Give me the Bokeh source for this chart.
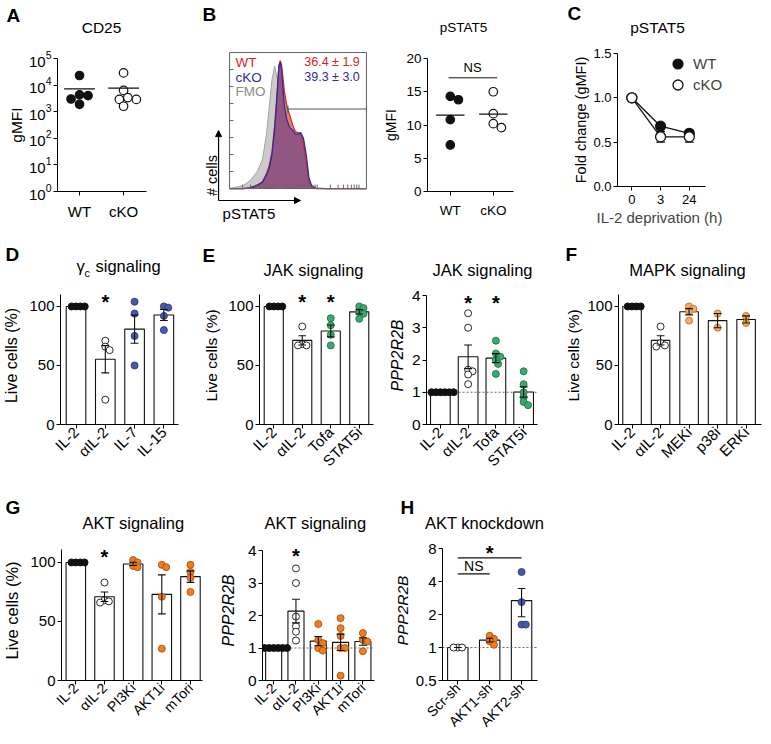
import math
import numpy as np
from bokeh.plotting import figure
from bokeh.layouts import row, column
from bokeh.models import (Label, Arrow, NormalHead, FixedTicker, Range1d, Legend, Title,
                          LegendItem, PrintfTickFormatter, Spacer)
from bokeh.embed import file_html
from bokeh.resources import INLINE

FONT = "Liberation Sans"

# ---------------- data ----------------
# A: CD25 gMFI
a_groups = ["WT", "cKO"]
a_wt = [23000, 4300, 4000, 3000, 1900]
a_cko = [28800, 6300, 3400, 2900, 2900, 1600]

# B: pSTAT5 flow histogram (% of max) and gMFI
hist_x = [0, 10, 15, 20, 24, 27, 29, 31, 33, 35, 36, 37, 38, 39, 40, 42, 44, 46, 48, 50,
          52, 54, 56, 58, 60, 63, 70, 100]
hist_fmo = [0, 2.2, 5.8, 12, 21, 40, 60, 80, 90, 80, 69, 55, 42, 30, 21, 9, 5, 2.2, 1, 0.6,
            0, 0, 0, 0, 0, 0, 0, 0]
hist_wt = [0, 0, 0.5, 2.5, 5, 11, 17, 27, 47, 75, 90, 94, 91, 82, 72, 60, 54, 47, 42, 41,
           41, 33, 20, 6, 1.5, 0, 0, 0]
hist_cko = [0, 0, 0.5, 2.2, 4.5, 10, 15, 25, 44, 72, 90, 93, 88, 74, 61, 50, 45, 43, 40, 40,
            41, 37, 25, 8, 2, 0.3, 0, 0]
hist_gate = [42.6, 100]
hist_gate_level = 58.5
hist_names = ["WT", "cKO", "FMO"]
hist_pct = ["36.4 ± 1.9", "39.3 ± 3.0"]

b_groups = ["WT", "cKO"]
b_wt = [14.3, 13.8, 10.8, 7.0]
b_cko = [15.0, 11.7, 10.2, 9.6]

# C: pSTAT5 fold change after IL-2 deprivation
c_hours = ["0", "3", "24"]
c_wt = [1.0, 0.68, 0.60]
c_wt_sem = [0.0, 0.03, 0.03]
c_cko = [1.0, 0.56, 0.56]
c_cko_sem = [0.0, 0.06, 0.06]

# D: gamma-c signaling, live cells (%)
d_cats = ["IL-2", "αIL-2", "IL-7", "IL-15"]
d_vals = [[100, 100, 100, 100], [71, 66, 63, 21], [104, 94, 75, 50], [100, 99, 92, 80]]
d_sig = [False, True, False, False]

# E: JAK signaling
e_cats = ["IL-2", "αIL-2", "Tofa", "STAT5i"]
e_live = [[100, 100, 100, 100], [83, 68, 67, 67], [90, 84, 76, 67], [100, 98.6, 95.2, 93.8, 89.5]]
e_live_sig = [False, True, True, False]
e_ppp = [[1, 1, 1, 1, 1, 1], [3.45, 3.0, 1.7, 1.65, 1.55, 1.25],
         [2.6, 2.2, 2.1, 2.0, 1.88, 1.57], [1.65, 1.25, 1.0, 0.85, 0.7, 0.6]]
e_ppp_sig = [False, True, True, False]

# F: MAPK signaling
f_cats = ["IL-2", "αIL-2", "MEKi", "p38i", "ERKi"]
f_live = [[100, 100, 100, 100], [83, 69, 67, 66], [100, 98, 96, 88], [94, 82], [92, 86]]

# G: AKT signaling
g_cats = ["IL-2", "αIL-2", "PI3Ki", "AKT1i", "mTori"]
g_live = [[100, 100, 100, 100], [83, 68, 67, 66], [102, 100, 97, 96], [98, 96, 71, 27],
          [98, 92, 87, 75]]
g_live_sig = [False, True, False, False, False]
g_ppp = [[1, 1, 1, 1, 1, 1], [3.45, 3.0, 1.97, 1.67, 1.5, 1.23], [1.74, 1.25, 1.15, 1.0, 0.92],
         [1.92, 1.61, 1.37, 1.0, 1.0, 0.15], [1.46, 1.25, 1.2, 0.9]]
g_ppp_sig = [False, True, False, False, False]

# H: AKT knockdown
h_cats = ["Scr-sh", "AKT1-sh", "AKT2-sh"]
h_ppp = [[1, 1, 1], [1.28, 1.2, 1.14, 1.06], [4.9, 2.6, 1.62, 1.62]]

# ---------------- styles ----------------
BLACK = "#111111"
STYLE = {
    "k": (BLACK, BLACK),
    "o": ("white", BLACK),
    "b": ("#4a58a8", "#2c3878"),
    "g": ("#3caa70", "#1f7447"),
    "lo": ("#f3ae63", "#b87428"),
    "do": ("#ef7e22", "#a8520e"),
}
TOTAL_W = 769


def no_align(p):
    try:
        p.frame_align = False
    except Exception:
        pass


def base_fig(geo, xr, yr, ytype="linear", tick_fs="15px", label_fs="15px"):
    x0, w, fl, fw, top, h, ft, fb = geo
    l = fl - x0
    t = ft - top
    fh = fb - ft
    p = figure(width=w, height=h, x_range=Range1d(*xr), y_range=Range1d(*yr),
               y_axis_type=ytype, min_border_left=l, min_border_top=t,
               min_border_right=w - l - fw, min_border_bottom=h - t - fh,
               output_backend="svg", toolbar_location=None, title=None)
    no_align(p)
    p.outline_line_color = None
    p.grid.grid_line_color = None
    for ax in p.axis:
        ax.axis_line_color = "black"
        ax.axis_line_width = 1
        ax.major_tick_line_color = "black"
        ax.major_tick_in = 0
        ax.major_tick_out = 4
        ax.minor_tick_line_color = None
        ax.major_label_text_font = FONT
        ax.major_label_text_font_size = tick_fs
        ax.major_label_text_color = "black"
        ax.axis_label_text_font = FONT
        ax.axis_label_text_font_size = label_fs
        ax.axis_label_text_font_style = "normal"
        ax.axis_label_text_color = "black"
    p.yaxis.major_label_standoff = 2
    p.xaxis.major_label_standoff = 7
    p.yaxis.axis_label_standoff = 5
    return p


def lab(p, x, y, text, size="16px", align="center", baseline="middle", color="black",
        style="normal", angle=0.0, units="data"):
    p.add_layout(Label(x=x, y=y, x_units=units, y_units=units, text=text, text_font=FONT,
                       text_font_size=size, text_align=align, text_baseline=baseline,
                       text_color=color, text_font_style=style, angle=angle))


def header(y0, h, items):
    p = figure(width=TOTAL_W, height=h, x_range=Range1d(0, TOTAL_W),
               y_range=Range1d(y0 + h, y0), x_axis_location=None, y_axis_location=None,
               min_border=0, output_backend="svg", toolbar_location=None, title=None)
    no_align(p)
    p.outline_line_color = None
    p.grid.grid_line_color = None
    p.xgrid.visible = False
    p.ygrid.visible = False
    for x, y, text, size, align, bold in items:
        lab(p, x, y, text, size=size, align=align, style="bold" if bold else "normal")
    return p


def swarm(vals, is_log, ppx, ppy, size, sep=0.62, step=0.32):
    ys = [(math.log10(v) if is_log else v) * ppy for v in vals]
    order = sorted(range(len(vals)), key=lambda i: -vals[i])
    placed, offs = [], [0.0] * len(vals)
    mind = size * sep
    for i in order:
        k = 0
        while True:
            cand = 0.0 if k == 0 else ((k + 1) // 2) * size * step * (1 if k % 2 else -1)
            if all((cand - px) ** 2 + (ys[i] - py) ** 2 >= mind ** 2 for px, py in placed):
                break
            k += 1
        placed.append((cand, ys[i]))
        offs[i] = cand / ppx
    return offs


def scales(geo, xr, yr, is_log):
    fw = geo[3]
    fh = geo[7] - geo[6]
    ppx = fw / (xr[1] - xr[0])
    if is_log:
        ppy = fh / (math.log10(yr[1]) - math.log10(yr[0]))
    else:
        ppy = fh / (yr[1] - yr[0])
    return ppx, ppy


def bar_panel(geo, xr, yr, ybounds, cats, vals, kinds, ylabel, yticks, sig=None, star_y=None,
              ytype="linear", italic=False, bar_w=0.67, pt=7.0, dashed=None, tick_fs="15px",
              label_fs="16px", xlab_fs="15px", ylab_standoff=5):
    is_log = ytype == "log"
    p = base_fig(geo, xr, yr, ytype, tick_fs, label_fs)
    n = len(cats)
    xs = list(range(n))
    means = [float(np.mean(v)) for v in vals]
    sems = [float(np.std(v, ddof=1) / math.sqrt(len(v))) for v in vals]
    p.vbar(x=xs, top=means, bottom=ybounds[0], width=bar_w, fill_color="white",
           line_color=BLACK, line_width=1.1)
    if dashed is not None:
        p.segment(x0=[xr[0]], y0=[dashed], x1=[n - 0.5], y1=[dashed], line_color="#555555",
                  line_dash="2 2", line_width=0.9)
    ppx, ppy = scales(geo, xr, yr, is_log)
    for i, (v, k) in enumerate(zip(vals, kinds)):
        offs = swarm(v, is_log, ppx, ppy, pt)
        fill, line = STYLE[k]
        p.scatter(x=[i + o for o in offs], y=v, size=pt, fill_color=fill,
                  line_color=line, line_width=0.9)
    cap = 4.0 / ppx
    lo = [m - s for m, s in zip(means, sems)]
    hi = [m + s for m, s in zip(means, sems)]
    p.segment(x0=xs, y0=lo, x1=xs, y1=hi, line_color=BLACK, line_width=1.1)
    p.segment(x0=[x - cap for x in xs], y0=hi, x1=[x + cap for x in xs], y1=hi,
              line_color=BLACK, line_width=1.1)
    p.segment(x0=[x - cap for x in xs], y0=lo, x1=[x + cap for x in xs], y1=lo,
              line_color=BLACK, line_width=1.1)
    p.xaxis.ticker = FixedTicker(ticks=xs)
    p.xaxis.major_label_overrides = {i: c for i, c in enumerate(cats)}
    p.xaxis.major_label_orientation = math.pi / 4
    p.xaxis.major_label_text_font_size = xlab_fs
    p.xaxis.major_label_standoff = 1
    p.yaxis.ticker = FixedTicker(ticks=yticks)
    p.yaxis.bounds = ybounds
    p.yaxis.axis_label = ylabel
    p.yaxis.axis_label_standoff = ylab_standoff
    if italic:
        p.yaxis.axis_label_text_font_style = "italic"
    if sig is not None:
        for i, s in enumerate(sig):
            if s:
                lab(p, i, star_y, "*", size="20px", style="bold")
    return p


# ================= Header row 1 (page y 0..44) =================
hdr1 = header(0, 44, [
    (6, 15, "A", "19px", "left", True),
    (101, 27, "CD25", "15.5px", "center", False),
    (202, 14, "B", "19px", "left", True),
    (463, 27, "pSTAT5", "13.5px", "center", False),
    (567, 13, "C", "19px", "left", True),
    (657, 27, "pSTAT5", "15.5px", "center", False),
])

# ================= Row 1 (page y 44..228) =================
TOP1, H1 = 44, 184
# ---- A ----
geoA = (0, 200, 57, 89, TOP1, H1, 58, 191)
xrA, yrA = (0.5, 2.52), (1, 1e5)
pA = base_fig(geoA, xrA, yrA, "log", "15px", "15.5px")
ppx, ppy = scales(geoA, xrA, yrA, True)
for i, (vals, kind) in enumerate([(a_wt, "k"), (a_cko, "o")]):
    offs = swarm(vals, True, ppx, ppy, 8.5, sep=0.95, step=0.5)
    fill, line = STYLE[kind]
    pA.scatter(x=[i + 1 + o for o in offs], y=vals, size=8.5, fill_color=fill,
               line_color=line, line_width=1.2)
    m = float(np.mean(vals))
    pA.segment(x0=[i + 1 - 0.35], y0=[m], x1=[i + 1 + 0.35], y1=[m], line_color=BLACK,
               line_width=1.3)
pA.xaxis.ticker = FixedTicker(ticks=[1, 2])
pA.xaxis.major_label_overrides = {1: a_groups[0], 2: a_groups[1]}
pA.yaxis.ticker = FixedTicker(ticks=[1, 10, 100, 1000, 10000, 100000])
pA.yaxis.axis_label = "gMFI"
pA.yaxis.axis_label_standoff = 1

# ---- B histogram (frame enlarged so arrows and labels sit inside it) ----
hxr, hyr = (-19.0, 104.4), (-27.9, 105.9)
pB = figure(width=180, height=H1, x_range=Range1d(*hxr), y_range=Range1d(*hyr),
            x_axis_location=None, y_axis_location=None, min_border_left=3,
            min_border_right=8, min_border_top=0, min_border_bottom=2,
            output_backend="svg", toolbar_location=None, title=None)
no_align(pB)
pB.outline_line_color = None
pB.grid.grid_line_color = None
pB.varea(x=hist_x, y1=0, y2=hist_fmo, fill_color="#cbcbcb")
pB.line(hist_x, hist_fmo, line_color="#a3a3a3", line_width=1)
pB.varea(x=hist_x, y1=0, y2=hist_wt, fill_color="#e4825f")
pB.varea(x=hist_x, y1=0, y2=hist_cko, fill_color="#8a5485", fill_alpha=0.92)
pB.line(hist_x, hist_wt, line_color="#d42424", line_width=1.2)
pB.line(hist_x, hist_cko, line_color="#2b2ba3", line_width=1.2)
pB.segment(x0=[hist_gate[0]], y0=[hist_gate_level], x1=[hist_gate[1]], y1=[hist_gate_level],
           line_color="#555555", line_width=1.2)
pB.segment(x0=hist_gate, y0=[hist_gate_level - 2.5] * 2, x1=hist_gate,
           y1=[hist_gate_level + 2.5] * 2, line_color="#555555", line_width=1.2)
# box with inward ticks
pB.quad(left=[0], right=[100], bottom=[0], top=[100], fill_color=None,
        line_color="#666666", line_width=1)
ytk = [12.5 * k for k in range(1, 8)]
pB.segment(x0=[0] * len(ytk), y0=ytk, x1=[2.9] * len(ytk), y1=ytk, line_color="#666666")
xtk = [d + 32 * math.log10(k) for d in (0, 32, 64) for k in range(1, 10)
       if 0 < d + 32 * math.log10(k) < 100]
pB.segment(x0=xtk, y0=[0] * len(xtk), x1=xtk, y1=[2.9] * len(xtk), line_color="#666666")
hist_colors = ["#d42424", "#2b2ba3", "#8c8c8c"]
for k, (nm, col) in enumerate(zip(hist_names, hist_colors)):
    lab(pB, 4.4, 92.9 - 10.9 * k, nm, size="13.5px", align="left", color=col)
for k, pc in enumerate(hist_pct):
    lab(pB, 95.1, 92.9 - 10.9 * k, pc, size="12.5px", align="right", color=hist_colors[k])
lab(pB, -13.1, 9.6, "# cells", size="14.5px", angle=math.pi / 2)
lab(pB, -5.1, -18.4, "pSTAT5", size="15px", align="left")
pB.add_layout(Arrow(x_start=-8.0, y_start=-8.8, x_end=-8.0, y_end=42.6, line_width=1.2,
                    end=NormalHead(size=6, fill_color="black", line_color="black")))
pB.add_layout(Arrow(x_start=-8.0, y_start=-8.8, x_end=51.8, y_end=-8.8, line_width=1.2,
                    end=NormalHead(size=6, fill_color="black", line_color="black")))

# ---- B dot plot ----
geoBd = (380, 190, 423, 90, TOP1, H1, 58, 191)
xrBd, yrBd = (0.47, 2.47), (0, 20)
pBd = base_fig(geoBd, xrBd, yrBd, "linear", "13.5px", "14px")
ppx, ppy = scales(geoBd, xrBd, yrBd, False)
for i, (vals, kind) in enumerate([(b_wt, "k"), (b_cko, "o")]):
    offs = swarm(vals, False, ppx, ppy, 8.5, sep=0.95, step=0.5)
    fill, line = STYLE[kind]
    pBd.scatter(x=[i + 1 + o for o in offs], y=vals, size=8.5, fill_color=fill,
                line_color=line, line_width=1.2)
    m = float(np.mean(vals))
    pBd.segment(x0=[i + 1 - 0.33], y0=[m], x1=[i + 1 + 0.33], y1=[m], line_color=BLACK,
                line_width=1.3)
pBd.segment(x0=[0.96], y0=[17.1], x1=[2.09], y1=[17.1], line_color=BLACK, line_width=1)
lab(pBd, 1.52, 18.6, "NS", size="13px")
pBd.xaxis.ticker = FixedTicker(ticks=[1, 2])
pBd.xaxis.major_label_overrides = {1: b_groups[0], 2: b_groups[1]}
pBd.yaxis.ticker = FixedTicker(ticks=[0, 5, 10, 15, 20])
pBd.yaxis.axis_label = "gMFI"
pBd.yaxis.axis_label_standoff = 4

# ---- C ----
geoC = (570, 199, 613, 147, TOP1, H1, 53, 186)
xrC, yrC = (-0.5, 4.48), (0, 1.5)
pC = base_fig(geoC, xrC, yrC, "linear", "13px", "14.5px")
cx = list(range(len(c_hours)))
ppx, _ = scales(geoC, xrC, yrC, False)
capc = 4.5 / ppx
for mean, sem in [(c_wt, c_wt_sem), (c_cko, c_cko_sem)]:
    lo = [m - s for m, s in zip(mean, sem)]
    hi = [m + s for m, s in zip(mean, sem)]
    pC.line(cx, mean, line_color=BLACK, line_width=1.3)
    pC.segment(x0=cx, y0=lo, x1=cx, y1=hi, line_color=BLACK, line_width=1.2)
    pC.segment(x0=[x - capc for x in cx], y0=lo, x1=[x + capc for x in cx], y1=lo,
               line_color=BLACK, line_width=1.2)
    pC.segment(x0=[x - capc for x in cx], y0=hi, x1=[x + capc for x in cx], y1=hi,
               line_color=BLACK, line_width=1.2)
r_wt = pC.scatter(x=cx, y=c_wt, size=10, fill_color=BLACK, line_color=BLACK, line_width=1.2)
r_cko = pC.scatter(x=cx, y=c_cko, size=10, fill_color="white", line_color=BLACK,
                   line_width=1.3)
for rr, nm, loc in [(r_wt, "WT", (48, 110)), (r_cko, "cKO", (48, 89))]:
    pC.add_layout(Legend(items=[LegendItem(label=nm, renderers=[rr])], location=loc,
                         glyph_width=25, glyph_height=25, label_height=25, padding=0,
                         margin=0, spacing=0, label_standoff=3, border_line_color=None,
                         background_fill_alpha=0, label_text_font=FONT,
                         label_text_font_size="15px"))
pC.xaxis.ticker = FixedTicker(ticks=cx)
pC.xaxis.bounds = (-0.5, 2.55)
pC.xaxis.major_label_overrides = {i: h for i, h in enumerate(c_hours)}
pC.xaxis.major_label_standoff = 4
pC.add_layout(Title(text="IL-2 deprivation (h)", align="left", offset=-21,
                    text_font=FONT, text_font_size="15px", text_font_style="normal",
                    standoff=0), "below")
pC.yaxis.ticker = FixedTicker(ticks=[0, 0.5, 1.0, 1.5])
pC.yaxis.formatter = PrintfTickFormatter(format="%.1f")
pC.yaxis.axis_label = "Fold change (gMFI)"
pC.yaxis.axis_label_standoff = 1

# ================= Header row 2 (page y 228..286) =================
hdr2 = header(228, 58, [
    (5, 254, "D", "19px", "left", True),
    (76, 265, "γ", "16.5px", "left", False),
    (84, 272, "c", "11px", "left", False),
    (95, 265, "signaling", "16.5px", "left", False),
    (202, 255, "E", "19px", "left", True),
    (313, 269, "JAK signaling", "16.5px", "center", False),
    (482, 269, "JAK signaling", "16.5px", "center", False),
    (565, 254, "F", "19px", "left", True),
    (687, 269, "MAPK signaling", "16.5px", "center", False),
])

# ================= Row 2 (page y 286..484) =================
TOP2, H2 = 286, 198
LIVE2 = (0, 116.9)
pD = bar_panel((0, 200, 57, 121, TOP2, H2, TOP2, 424), (-0.53, 3.5), LIVE2, (0, 110),
               d_cats, d_vals, ["k", "o", "b", "b"], "Live cells (%)", [0, 50, 100],
               d_sig, 103.4, ylab_standoff=6)
pE1 = bar_panel((200, 185, 253, 120, TOP2, H2, TOP2, 424), (-0.5, 3.5), LIVE2, (0, 110),
                e_cats, e_live, ["k", "o", "g", "g"], "Live cells (%)", [0, 50, 100],
                e_live_sig, 103.4, label_fs="15.5px", ylab_standoff=5)
pE2 = bar_panel((385, 177, 425, 112, TOP2, H2, TOP2, 424), (-0.5, 3.5), (0, 4.28), (0, 4),
                e_cats, e_ppp, ["k", "o", "g", "g"], "PPP2R2B", [0, 1, 2, 3, 4],
                e_ppp_sig, 3.78, italic=True, bar_w=0.71, dashed=1, tick_fs="15.5px",
                ylab_standoff=3)
pF = bar_panel((562, 207, 613, 148, TOP2, H2, TOP2, 424), (-0.475, 4.54), LIVE2, (0, 110),
               f_cats, f_live, ["k", "o", "lo", "lo", "lo"], "Live cells (%)",
               [0, 50, 100], bar_w=0.65, label_fs="15.5px", ylab_standoff=2)

# ================= Header row 3 (page y 484..540) =================
hdr3 = header(484, 56, [
    (5, 507, "G", "19px", "left", True),
    (133, 522, "AKT signaling", "16.5px", "center", False),
    (315, 522, "AKT signaling", "16.5px", "center", False),
    (400, 507, "H", "19px", "left", True),
    (484, 522, "AKT knockdown", "16.5px", "center", False),
])

# ================= Row 3 (page y 540..742) =================
TOP3, H3 = 540, 202
pG1 = bar_panel((0, 210, 57, 145, TOP3, H3, TOP3, 680), (-0.5, 4.42), (0, 118.6), (0, 111),
                g_cats, g_live, ["k", "o", "do", "do", "do"], "Live cells (%)",
                [0, 50, 100], g_live_sig, 104.2, bar_w=0.68, xlab_fs="14px",
                label_fs="16.5px", ylab_standoff=6)
pG2 = bar_panel((210, 180, 262, 112, TOP3, H3, TOP3, 680), (-0.5, 4.52), (0, 4.31), (0, 4),
                g_cats, g_ppp, ["k", "o", "do", "do", "do"], "PPP2R2B", [0, 1, 2, 3, 4],
                g_ppp_sig, 3.82, italic=True, bar_w=0.72, dashed=1, tick_fs="15.5px",
                xlab_fs="14px", ylab_standoff=8)
pH = bar_panel((390, 180, 437, 100, TOP3, H3, TOP3, 680), (-0.48, 2.5), (0.5, 9.5), (0.5, 8),
               h_cats, h_ppp, ["o", "do", "b"], "PPP2R2B", [0.5, 1, 2, 4, 8], ytype="log",
               italic=True, bar_w=0.64, dashed=1, tick_fs="15px", xlab_fs="14px",
               label_fs="15.5px", ylab_standoff=2)
pH.yaxis.major_label_overrides = {0.5: "0.5", 1: "1", 2: "2", 4: "4", 8: "8"}
pH.segment(x0=[0, 0], y0=[6.6, 4.7], x1=[2, 1], y1=[6.6, 4.7], line_color=BLACK, line_width=1.2)
lab(pH, 1, 7.35, "*", size="20px", style="bold")
lab(pH, 0.5, 5.6, "NS", size="14px")

layout = column(
    hdr1,
    row(pA, pB, pBd, pC),
    hdr2,
    row(pD, pE1, pE2, pF),
    hdr3,
    row(pG1, pG2, pH, Spacer(width=TOTAL_W - 570, height=H3)),
)

open("out.html", "w").write(file_html(layout, INLINE))
